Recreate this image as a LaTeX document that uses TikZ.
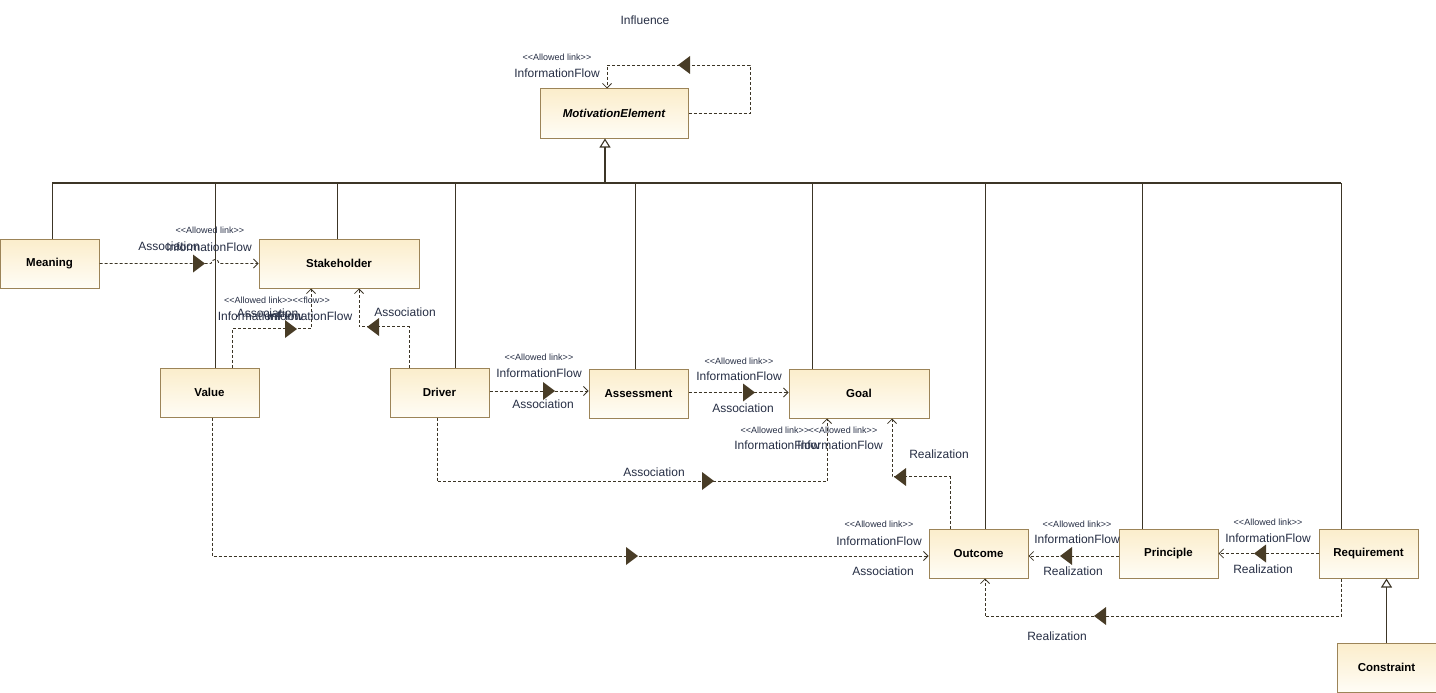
\documentclass[tikz,border=0pt]{standalone}
\usepackage{fontspec}
\setmainfont{Liberation Sans}
\usetikzlibrary{arrows.meta}

\definecolor{boxline}{RGB}{156,132,88}
\definecolor{boxtop}{RGB}{251,237,203}
\definecolor{boxbot}{RGB}{255,253,246}
\definecolor{linecol}{RGB}{60,53,38}
\definecolor{markfill}{RGB}{72,60,38}
\definecolor{labelcol}{RGB}{38,46,68}

\newcommand{\dirmark}[3]{\fill[markfill,shift={(#1,#2)},rotate=#3] (6,0) -- (-6,9) -- (-6,-9) -- cycle;}
\newcommand{\allowed}{<{}<Allowed link>{}>}

\begin{document}
\begin{tikzpicture} [x=1pt, y=-1pt,
                    elem node/.style={draw=boxline,line width=1pt,top color=boxtop,bottom color=boxbot,
                      minimum width=#1,minimum height=49pt,inner sep=0pt,font=\bfseries\fontsize{11.5}{14}\selectfont},
                    elem node/.default=99pt,
                    link/.style={draw=linecol,line width=0.9pt,dash pattern=on 3pt off 2pt,
                      -{Straight Barb[length=4.5pt,width=9pt,line width=0.8pt]}},
                    gen/.style={draw=linecol,line width=1.1pt,-{Triangle[open,length=9pt,width=11pt,fill=white]}},
                    lbl/.style={font=\fontsize{12}{14}\selectfont,text=labelcol,inner sep=0pt},
                    stereo/.style={font=\fontsize{9}{11}\selectfont,text=labelcol,inner sep=0pt}]
    \useasboundingbox (0,0) rectangle (1436,693);

    \node[elem node=148pt] (1) at (614,113.5) {\itshape MotivationElement};
    \node[elem node] (2) at (49.5,263.5) {Meaning};
    \node[elem node=160pt] (3) at (339,263.5) {Stakeholder};
    \node[elem node] (4) at (209.5,392.5) {Value};
    \node[elem node] (5) at (439.5,392.5) {Driver};
    \node[elem node] (6) at (638.5,393.5) {Assessment};
    \node[elem node=140pt] (7) at (859,393.5) {Goal};
    \node[elem node] (8) at (978.5,553.5) {Outcome};
    \node[elem node] (9) at (1168.5,553.5) {Principle};
    \node[elem node] (10) at (1368.5,553.5) {Requirement};
    \node[elem node] (11) at (1386.5,667.5) {Constraint};

    % generalization tree
    \coordinate (top) at (605,183);
    \draw[gen] (top) -- ([xshift=-9pt]1.south);
    \draw[linecol,line width=1.1pt] (52,183) -- (1341,183);
    \foreach \n/\x in {2/52, 4/215, 3/337, 5/455, 6/635, 7/812, 8/985, 9/1142, 10/1341} {
        \coordinate (b\n) at (\x,183);
        \draw[linecol,line width=0.8pt] (b\n) -- (b\n |- \n.north);
    }
    \draw[gen] (11.north) -- (11.north |- 10.south);

    % Influence
    \node[lbl] (inf) at (645,20) {Influence};
    \draw[link] (1.east) -- (750,113.5) -- (750,65) -- (607,65) -- ([xshift=-7pt]1.north);
    \dirmark{684}{65}{180}
    \node[stereo] (s1) at (557,57) {\allowed};
    \node[lbl] (l1) at (557,73) {InformationFlow};

    % Meaning -> Stakeholder
    \draw[link] (2.east) -- (211,263.5) arc (180:360:4) -- (3.west);
    \dirmark{199}{263.5}{0}
    \node[stereo] (s2) at (210,230) {\allowed};
    \node[lbl] (l2) at (169,246) {Association};
    \node[lbl] (l3) at (209,247) {InformationFlow};

    % Value -> Stakeholder
    \draw[link] ([xshift=22.5pt]4.north) -- ++(0,-39) -| ([xshift=-28pt]3.south);
    \dirmark{291}{329}{0}
    \node[stereo] (s3) at (277,300) {\allowed<{}<flow>{}>};
    \node[lbl] (l4) at (260.5,316) {InformationFlow};
    \node[lbl] (l5) at (309.5,316) {InformationFlow};
    \node[lbl] (l6) at (267.5,313) {Association};

    % Driver -> Stakeholder
    \draw[link] ([xshift=-30.5pt]5.north) -- ++(0,-41) -| ([xshift=20pt]3.south);
    \dirmark{373}{327}{180}
    \node[lbl] (l7) at (405,312) {Association};

    % Driver -> Assessment -> Goal
    \draw[link] ([yshift=1.5pt]5.east) -- ([yshift=1.5pt]5.east -| 6.west);
    \dirmark{549}{391}{0}
    \node[stereo] (s4) at (539,357) {\allowed};
    \node[lbl] (l8) at (539,373) {InformationFlow};
    \node[lbl] (l9) at (543,404) {Association};
    \draw[link] ([yshift=1pt]6.east) -- ([yshift=1pt]7.west);
    \dirmark{749}{392.5}{0}
    \node[stereo] (s5) at (739,361) {\allowed};
    \node[lbl] (l10) at (739,376) {InformationFlow};
    \node[lbl] (l11) at (743,408) {Association};

    % Driver -> Goal
    \draw[link] ([xshift=-2.5pt]5.south) -- ++(0,64) -| ([xshift=-32pt]7.south);
    \dirmark{708}{481}{0}
    \node[lbl] (l12) at (654,472) {Association};
    \node[stereo] (s6) at (775,430) {\allowed};
    \node[lbl] (l13) at (777,445) {InformationFlow};
    \node[stereo] (s7) at (843,430) {\allowed};
    \node[lbl] (l14) at (840,445) {InformationFlow};

    % Outcome -> Goal
    \draw[link] ([xshift=-28.5pt]8.north) -- ++(0,-52) -| ([xshift=33pt]7.south);
    \dirmark{900}{477}{180}
    \node[lbl] (l15) at (939,454) {Realization};

    % Value -> Outcome
    \draw[link] ([xshift=2.5pt]4.south) |- ([yshift=-2.5pt]8.west);
    \dirmark{632}{556}{0}
    \node[stereo] (s8) at (879,524) {\allowed};
    \node[lbl] (l16) at (879,541) {InformationFlow};
    \node[lbl] (l17) at (883,571) {Association};

    % Principle -> Outcome
    \draw[link] ([yshift=-2.5pt]9.west) -- ([yshift=-2.5pt]8.east);
    \dirmark{1066}{556}{180}
    \node[stereo] (s9) at (1077,524) {\allowed};
    \node[lbl] (l18) at (1077,539) {InformationFlow};
    \node[lbl] (l19) at (1073,571) {Realization};

    % Requirement -> Principle
    \draw[link] (10.west) -- (9.east);
    \dirmark{1260}{553.5}{180}
    \node[stereo] (s10) at (1268,522) {\allowed};
    \node[lbl] (l20) at (1268,538) {InformationFlow};
    \node[lbl] (l21) at (1263,569) {Realization};

    % Requirement -> Outcome
    \draw[link] ([xshift=-27.5pt]10.south) -- ++(0,38) -| ([xshift=6.5pt]8.south);
    \dirmark{1100}{616}{180}
    \node[lbl] (l22) at (1057,636) {Realization};
\end{tikzpicture}
\end{document}
